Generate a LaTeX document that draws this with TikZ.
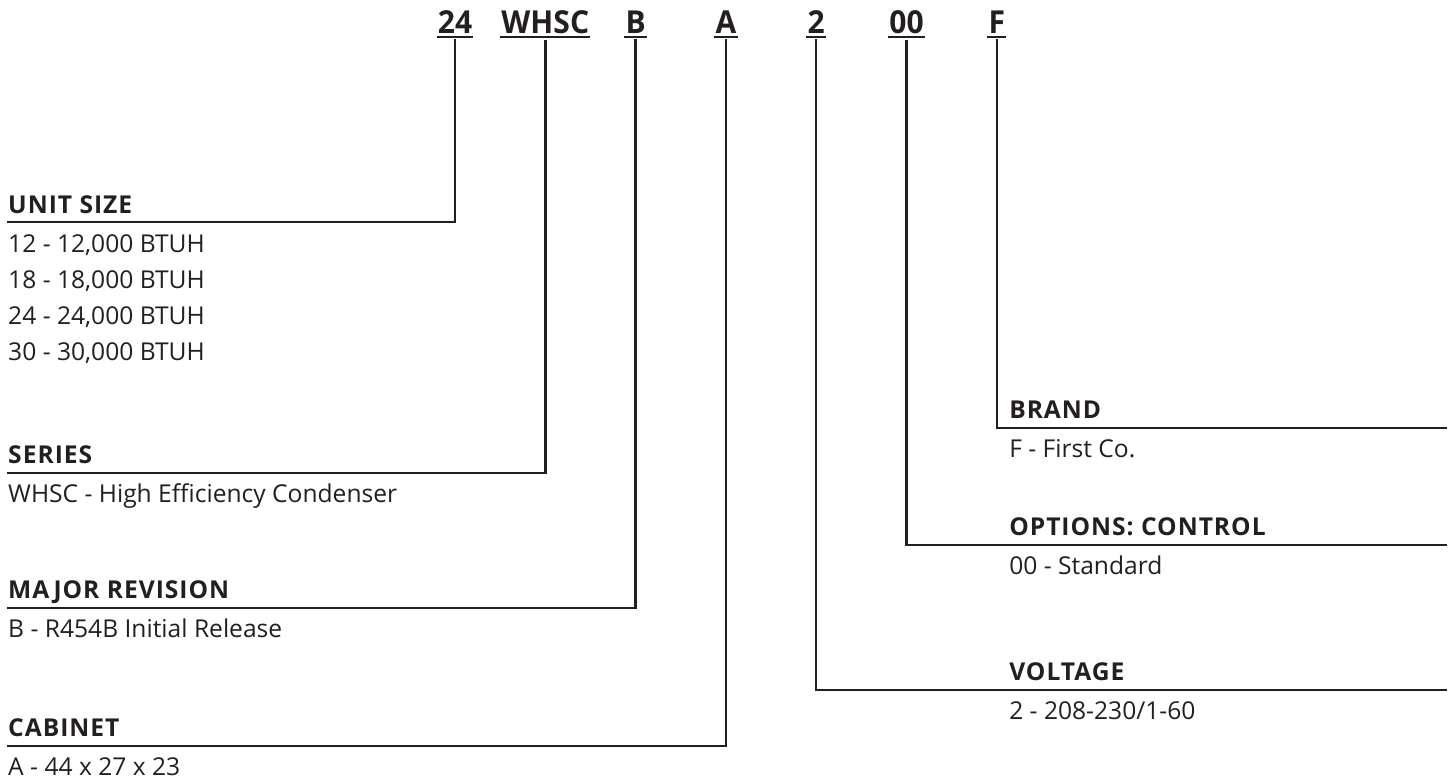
\documentclass[tikz,border=0pt]{standalone}
\usepackage{fontspec}
\setmainfont{Open Sans}
\newfontfamily\codefont{Open Sans}[FakeStretch=0.95]
\newfontfamily\headfont{Open Sans}[LetterSpace=4]
\usetikzlibrary{positioning}

\definecolor{ink}{RGB}{35, 31, 32}

\begin{document}
\begin{tikzpicture}[x=0.02cm, y=-0.02cm, line width=0.05cm, draw=ink, text=ink,
    code/.style={font=\codefont\fontsize{18}{18}\selectfont\bfseries, anchor=base, inner sep=0pt},
    head/.style={font=\headfont\fontsize{14}{14}\selectfont\bfseries, anchor=base west, inner sep=0pt},
    body/.style={font=\fontsize{14}{14}\selectfont, anchor=base west, inner sep=0pt},
    uline/.style={line width=0.04cm}]
      \def\pitch{90.3}
      \def\lx{7}
      \def\rx{1008}
      \def\redge{1447}

      \useasboundingbox (0, 0) rectangle (1453, 782);

      % model code along the top, each part underlined
      \foreach \t/\n [count=\i from 0] in {24/c24, WHSC/cwhsc, B/cb, A/ca, 2/cv, 00/co, F/cf} {
        \node[code] (\n) at ({455+\i*\pitch}, 33) {\t};
        \draw[uline] ([yshift=-0.05cm]\n.south west) -- ([yshift=-0.05cm]\n.south east);
      }

      % rules the leaders end on
      \coordinate (unitL) at (\lx, 222);
      \coordinate (seriesL) at (\lx, 473);
      \coordinate (majorL) at (\lx, 608);
      \coordinate (cabL) at (\lx, 746);
      \coordinate (brandR) at (\redge, 428);
      \coordinate (optR) at (\redge, 545);
      \coordinate (voltR) at (\redge, 690);

      % leaders
      \draw ([yshift=-0.1cm]c24.south) |- (unitL);
      \draw ([yshift=-0.1cm]cwhsc.south) |- (seriesL);
      \draw ([yshift=-0.1cm]cb.south) |- (majorL);
      \draw ([yshift=-0.1cm]ca.south) |- (cabL);
      \draw ([yshift=-0.1cm]cf.south) |- (brandR);
      \draw ([yshift=-0.1cm]co.south) |- (optR);
      \draw ([yshift=-0.1cm]cv.south) |- (voltR);

      % left column
      \node[head] (unit) at (\lx, 213) {UNIT SIZE};
      \foreach \t [count=\k from 0] in {{12 - 12,000 BTUH}, {18 - 18,000 BTUH}, {24 - 24,000 BTUH}, {30 - 30,000 BTUH}} {
        \node[body] (size\k) at (\lx, {252+\k*36.3}) {\t};
      }
      \node[head] (series) at (\lx, 463) {SERIES};
      \node[body] (series1) at (\lx, 502) {WHSC - High Efficiency Condenser};
      \node[head] (major) at (\lx, 598) {MAJOR REVISION};
      \node[body] (major1) at (\lx, 637) {B - R454B Initial Release};
      \node[head] (cab) at (\lx, 736) {CABINET};
      \node[body] (cab1) at (\lx, 775) {A - 44 x 27 x 23};

      % right column
      \node[head] (brand) at (\rx, 418) {BRAND};
      \node[body] (brand1) at (\rx, 457) {F - First Co.};
      \node[head] (opt) at (\rx, 535) {OPTIONS: CONTROL};
      \node[body] (opt1) at (\rx, 574) {00 - Standard};
      \node[head] (volt) at (\rx, 680) {VOLTAGE};
      \node[body] (volt1) at (\rx, 719) {2 - 208-230/1-60};
    \end{tikzpicture}
\end{document}
